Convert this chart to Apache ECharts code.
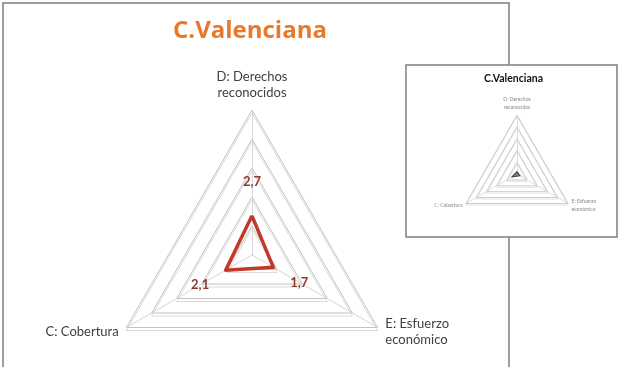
<!DOCTYPE html>
<html>
<head>
<meta charset="utf-8">
<script src="https://cdn.jsdelivr.net/npm/echarts@6/dist/echarts.min.js"></script>
<style>
  html, body { margin: 0; padding: 0; background: #fff; }
  #chart { width: 621px; height: 367px; }
</style>
</head>
<body>
<div id="chart"></div>
<script>
// radar order is counter-clockwise from the top: D, C, E
const axisNames = ['D: Derechos\nreconocidos', 'C: Cobertura', 'E: Esfuerzo\neconómico'];
const axisMax = [10, 10, 10];
const valenciaValues = [2.7, 2.1, 1.7];
// small copy of the slide, on the right
const insetValues = [0.4, 1.0, 0.6];

const font = 'Lato, "Open Sans", sans-serif';

// decimal comma like the original
function fmt(v) {
    return String(v).replace('.', ',');
}

const chart = echarts.init(document.getElementById('chart'));

const option = {
    backgroundColor: '#fff',
    animation: false,
    title: [
        {
            text: 'C.Valenciana',
            left: 173,
            top: 19,
            padding: 0,
            textStyle: { color: '#E8792B', fontSize: 24, fontWeight: 'bold', fontFamily: '"Open Sans", sans-serif' }
        },
        {
            text: 'C.Valenciana',
            left: 484,
            top: 73,
            padding: 0,
            textStyle: { color: '#111', fontSize: 10.5, fontWeight: 'bold', fontFamily: font }
        }
    ],
    graphic: [
        // main slide frame
        {
            type: 'rect', z: -10,
            shape: { x: 3, y: 3, width: 506, height: 372 },
            style: { fill: '#fff', stroke: '#7f7f7f', lineWidth: 1.5 }
        },
        // inset frame
        {
            type: 'rect', z: -5,
            shape: { x: 406, y: 65, width: 211, height: 172 },
            style: { fill: '#fff', stroke: '#7f7f7f', lineWidth: 1.5 }
        }
    ],
    radar: [
        {
            center: [252, 255],
            radius: 145,
            shape: 'polygon',
            splitNumber: 5,
            axisNameGap: 9,
            indicator: axisNames.map((n, i) => ({ name: n, max: axisMax[i] })),
            axisName: { color: '#404040', fontSize: 13, lineHeight: 16, fontFamily: font },
            splitLine: {
                lineStyle: {
                    color: '#c2c2c2', width: 1,
                    shadowColor: 'rgba(0,0,0,0.14)', shadowOffsetY: 3, shadowBlur: 0
                }
            },
            splitArea: { show: false },
            axisLine: { lineStyle: { color: '#d6d6d6' } },
            axisTick: { show: false },
            axisLabel: { show: false }
        },
        {
            center: [517, 174],
            radius: 59,
            shape: 'polygon',
            splitNumber: 5,
            axisNameGap: 4,
            indicator: axisNames.map((n, i) => ({ name: n, max: axisMax[i] })),
            axisName: { color: '#888', fontSize: 5, lineHeight: 8, fontFamily: font },
            splitLine: {
                lineStyle: {
                    color: '#cacaca', width: 1,
                    shadowColor: 'rgba(0,0,0,0.1)', shadowOffsetY: 1.5, shadowBlur: 0
                }
            },
            splitArea: { show: false },
            axisLine: { lineStyle: { color: '#dddddd' } },
            axisTick: { show: false },
            axisLabel: { show: false }
        }
    ],
    series: [
        {
            type: 'radar',
            radarIndex: 0,
            symbol: 'circle',
            symbolSize: 1,
            itemStyle: { color: '#C0392B' },
            lineStyle: { color: '#C0392B', width: 3.5 },
            label: {
                show: true,
                position: 'inside',
                // push each value out along its own axis
                formatter: p => '{a' + valenciaValues.indexOf(p.value) + '|' + fmt(p.value) + '}',
                rich: {
                    a0: { padding: [0, 0, 68, 0] },
                    a1: { padding: [30, 51, 0, 0] },
                    a2: { padding: [30, 0, 0, 52] }
                },
                color: '#8E3B2E',
                fontSize: 13,
                fontWeight: 'bold',
                fontFamily: font
            },
            data: [{ value: valenciaValues, name: 'C.Valenciana' }]
        },
        {
            type: 'radar',
            radarIndex: 1,
            symbol: 'none',
            lineStyle: { color: '#444', width: 1.2 },
            areaStyle: { color: '#555', opacity: 0.7 },
            data: [{ value: insetValues, name: 'C.Valenciana' }]
        }
    ]
};

chart.setOption(option);
</script>
</body>
</html>
